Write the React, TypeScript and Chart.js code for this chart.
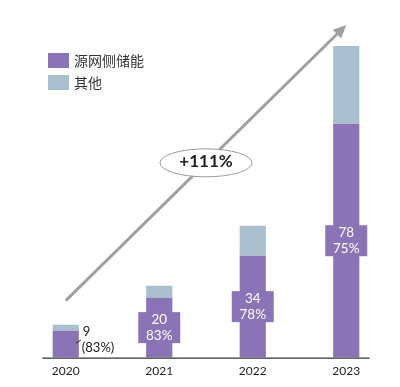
import React, { useEffect, useRef } from "react";
import { Chart, registerables } from "chart.js";

Chart.register(...registerables);

const years = ["2020", "2021", "2022", "2023"];
const gridSide = [9, 20, 34, 78];
const others = [2, 4, 10, 26];
const shareLabels = ["83%", "83%", "78%", "75%"];
const seriesNames = ["源网侧储能", "其他"];
const growthLabel = "+111%";
const arrowFromValue = 19;
const arrowToValue = 111;

const PURPLE = "#8a74b6";
const GREY = "#a9bfcd";
const TEXT = "#222222";
const LINE_GREY = "#a0a0a0";
const FONT = "Lato, 'Noto Sans CJK SC', sans-serif";
const CJK = "'Noto Sans CJK SC', sans-serif";

const overlay = {
  id: "overlay",
  afterDatasetsDraw(chart: any) {
    const ctx = chart.ctx as CanvasRenderingContext2D;
    const xs = chart.scales.x;
    const ys = chart.scales.y;
    const meta = chart.getDatasetMeta(0);

    // axis base line
    const step = xs.getPixelForValue(1) - xs.getPixelForValue(0);
    const baseY = ys.getPixelForValue(0);
    ctx.save();
    ctx.strokeStyle = "#333";
    ctx.lineWidth = 1.2;
    ctx.beginPath();
    ctx.moveTo(xs.getPixelForValue(0) - step / 4, baseY + 0.5);
    ctx.lineTo(xs.getPixelForValue(years.length - 1) + step / 4, baseY + 0.5);
    ctx.stroke();

    // growth arrow
    const x0 = xs.getPixelForValue(0);
    const y0 = ys.getPixelForValue(arrowFromValue);
    const x1 = xs.getPixelForValue(years.length - 1);
    const y1 = ys.getPixelForValue(arrowToValue);
    const ang = Math.atan2(y1 - y0, x1 - x0);
    const headLen = 13;
    const headW = 6;
    ctx.strokeStyle = LINE_GREY;
    ctx.fillStyle = LINE_GREY;
    ctx.lineWidth = 3;
    ctx.beginPath();
    ctx.moveTo(x0, y0);
    ctx.lineTo(x1 - Math.cos(ang) * (headLen - 2), y1 - Math.sin(ang) * (headLen - 2));
    ctx.stroke();
    ctx.beginPath();
    ctx.moveTo(x1, y1);
    const bx = x1 - Math.cos(ang) * headLen;
    const by = y1 - Math.sin(ang) * headLen;
    ctx.lineTo(bx + Math.sin(ang) * headW, by - Math.cos(ang) * headW);
    ctx.lineTo(bx - Math.sin(ang) * headW, by + Math.cos(ang) * headW);
    ctx.closePath();
    ctx.fill();

    // ellipse with growth label
    const cx = (x0 + x1) / 2;
    const cy = (y0 + y1) / 2;
    ctx.beginPath();
    ctx.ellipse(cx, cy, 46, 14, 0, 0, Math.PI * 2);
    ctx.fillStyle = "#ffffff";
    ctx.fill();
    ctx.lineWidth = 1;
    ctx.strokeStyle = "#999";
    ctx.stroke();
    ctx.fillStyle = TEXT;
    ctx.font = `bold 17px ${FONT}`;
    ctx.textAlign = "center";
    ctx.textBaseline = "middle";
    ctx.fillText(growthLabel, cx, cy - 1);

    // value labels
    meta.data.forEach((bar: any, i: number) => {
      const props = bar.getProps(["x", "y", "base", "width"], true);
      const mid = (props.y + props.base) / 2;
      if (i === 0) {
        const right = props.x + props.width / 2;
        ctx.strokeStyle = TEXT;
        ctx.lineWidth = 1;
        ctx.beginPath();
        ctx.moveTo(right - 3, mid - 1);
        ctx.lineTo(right + 2, mid - 4);
        ctx.stroke();
        ctx.fillStyle = TEXT;
        ctx.font = `13px ${FONT}`;
        ctx.textAlign = "left";
        ctx.textBaseline = "middle";
        ctx.fillText(String(gridSide[i]), right + 4, props.y + 1);
        ctx.fillText(`(${shareLabels[i]})`, right + 3, props.y + 17);
      } else {
        const w = 42;
        const h = 31;
        ctx.fillStyle = PURPLE;
        ctx.fillRect(props.x - w / 2, mid - h / 2, w, h);
        ctx.fillStyle = "#ffffff";
        ctx.font = `13.5px ${FONT}`;
        ctx.textAlign = "center";
        ctx.textBaseline = "middle";
        ctx.fillText(String(gridSide[i]), props.x, mid - 8);
        ctx.fillText(shareLabels[i], props.x, mid + 8);
      }
    });

    // legend
    const colors = [PURPLE, GREY];
    seriesNames.forEach((name, i) => {
      const ly = 53 + i * 22;
      ctx.fillStyle = colors[i];
      ctx.fillRect(48, ly, 21, 15);
      ctx.fillStyle = "#333";
      ctx.font = `14px ${CJK}`;
      ctx.textAlign = "left";
      ctx.textBaseline = "middle";
      ctx.fillText(name, 74, ly + 7.5);
    });
    ctx.restore();
  },
};

export default function App() {
  const ref = useRef<HTMLCanvasElement>(null);
  useEffect(() => {
    if (!ref.current) return;
    const chart = new Chart(ref.current, {
      type: "bar",
      data: {
        labels: years,
        datasets: [
          {
            label: seriesNames[0],
            data: gridSide,
            backgroundColor: PURPLE,
            barPercentage: 1,
            categoryPercentage: 0.28,
          },
          {
            label: seriesNames[1],
            data: others,
            backgroundColor: GREY,
            barPercentage: 1,
            categoryPercentage: 0.28,
          },
        ],
      },
      options: {
        animation: false,
        responsive: true,
        maintainAspectRatio: false,
        layout: { padding: { top: 13, left: 19, right: 7, bottom: 3 } },
        plugins: { legend: { display: false }, tooltip: { enabled: false } },
        scales: {
          x: {
            stacked: true,
            grid: { display: false, drawTicks: false },
            border: { display: false },
            ticks: { color: TEXT, font: { size: 12, family: FONT }, padding: 6 },
          },
          y: {
            stacked: true,
            display: false,
            min: 0,
            max: 115,
          },
        },
      },
      plugins: [overlay],
    });
    return () => chart.destroy();
  }, []);
  return (
    <div style={{ position: "absolute", left: 0, top: 0, width: 400, height: 387 }}>
      <canvas ref={ref} />
    </div>
  );
}
